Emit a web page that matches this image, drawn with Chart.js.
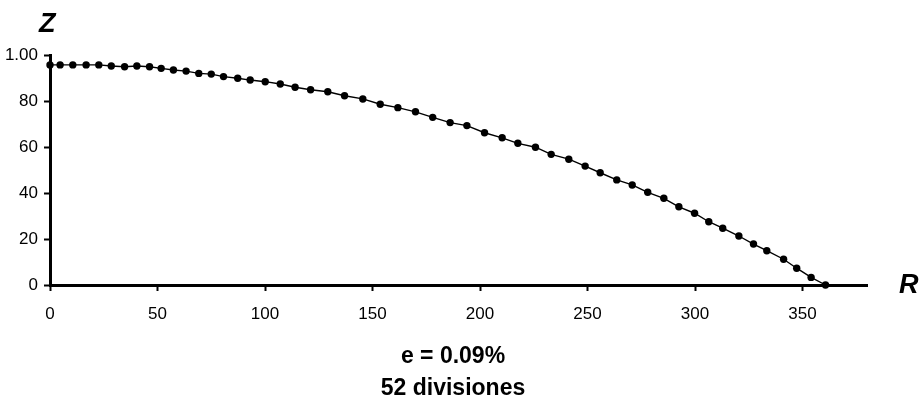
<!DOCTYPE html>
<html>
<head>
<meta charset="utf-8">
<script src="https://cdn.jsdelivr.net/npm/chart.js@4/dist/chart.umd.min.js"></script>
<style>
  body { margin: 0; background: #fff; }
  #wrap { position: relative; width: 922px; height: 407px; }
  #perfil { position: absolute; left: 0; top: 0; }
  .lbl { position: absolute; font-family: "Liberation Sans", Arial, sans-serif; color: #000; font-weight: bold; white-space: nowrap; }
  .eje { font-style: italic; font-size: 27px; line-height: 27px; }
  .nota { font-size: 23px; line-height: 28px; width: 922px; text-align: center; left: -8px; }
</style>
</head>
<body>
<div id="wrap">
  <canvas id="perfil" width="922" height="407"></canvas>
  <div class="lbl eje" style="left:39px; top:10px;">Z</div>
  <div class="lbl eje" style="left:899px; top:271px;">R</div>
  <div class="lbl nota" style="top:341px;">e = 0.09%</div>
  <div class="lbl nota" style="top:373px;">52 divisiones</div>
</div>
<script>
// perfil Z(R), 52 divisiones
const rValues = [0, 4.7, 10.6, 16.8, 22.7, 28.5, 34.7, 40.4, 46.3, 51.7, 57.4, 63.3, 69.2,
  75.0, 80.7, 87.3, 93.1, 100.1, 107.1, 114.0, 121.2, 129.2, 137.0, 145.5,
  153.6, 161.8, 170.0, 178.0, 186.1, 193.9, 202.1, 210.3, 217.6,
  225.8, 233.1, 241.3, 248.9, 255.9, 263.6, 270.8, 278.0, 285.5, 292.5,
  299.8, 306.4, 312.9, 320.4, 327.2, 333.4, 341.2, 347.3, 354.0, 360.7];
const zValues = [95.7, 95.7, 95.7, 95.7, 95.7, 95.2, 94.9, 95.2, 94.9, 94.2, 93.5, 93.0, 92.0,
  91.7, 90.6, 89.9, 89.1, 88.4, 87.4, 86.0, 84.9, 84.0, 82.3, 80.9,
  78.6, 77.1, 75.3, 72.9, 70.6, 69.3, 66.2, 64.0, 61.6,
  59.9, 56.8, 54.7, 51.7, 48.8, 45.7, 43.5, 40.3, 37.7, 34.0,
  31.2, 27.5, 24.7, 21.3, 17.8, 14.9, 11.2, 7.3, 3.3, 0];

const xTicks = [0, 50, 100, 150, 200, 250, 300, 350];
const yTicks = [0, 20, 40, 60, 80, 100];
const yTickLabels = ["0", "20", "40", "60", "80", "1.00"];

const puntos = rValues.map((r, i) => ({x: r, y: zValues[i]}));
const fuente = {family: "'Liberation Sans', Arial, sans-serif", size: 17};

new Chart(document.getElementById("perfil"), {
  type: "scatter",
  data: {
    datasets: [{
      data: puntos,
      showLine: true,
      borderColor: "#000",
      borderWidth: 1.4,
      backgroundColor: "#000",
      pointRadius: 3.7,
      pointBorderWidth: 0,
      clip: false
    }]
  },
  options: {
    responsive: false,
    animation: false,
    layout: {padding: {left: 0, top: 55, right: 55, bottom: 82}},
    plugins: {legend: {display: false}, tooltip: {enabled: false}},
    scales: {
      x: {
        type: "linear",
        min: 0,
        max: 380,
        afterBuildTicks: s => { s.ticks = xTicks.map(v => ({value: v})); },
        afterFit: s => { s.height = 40; },
        grid: {drawOnChartArea: false, drawTicks: true, tickLength: 6, tickColor: "#000", tickWidth: 2},
        border: {display: true, color: "#000", width: 3},
        ticks: {color: "#000", font: fuente, padding: 13, maxRotation: 0}
      },
      y: {
        type: "linear",
        min: 0,
        max: 100,
        afterBuildTicks: s => { s.ticks = yTicks.map(v => ({value: v})); },
        afterFit: s => { s.width = 50; },
        grid: {drawOnChartArea: false, drawTicks: true, tickLength: 6, tickColor: "#000", tickWidth: 2},
        border: {display: true, color: "#000", width: 3},
        ticks: {
          color: "#000", font: fuente, padding: 6,
          callback: v => yTickLabels[yTicks.indexOf(v)]
        }
      }
    }
  }
});
</script>
</body>
</html>
